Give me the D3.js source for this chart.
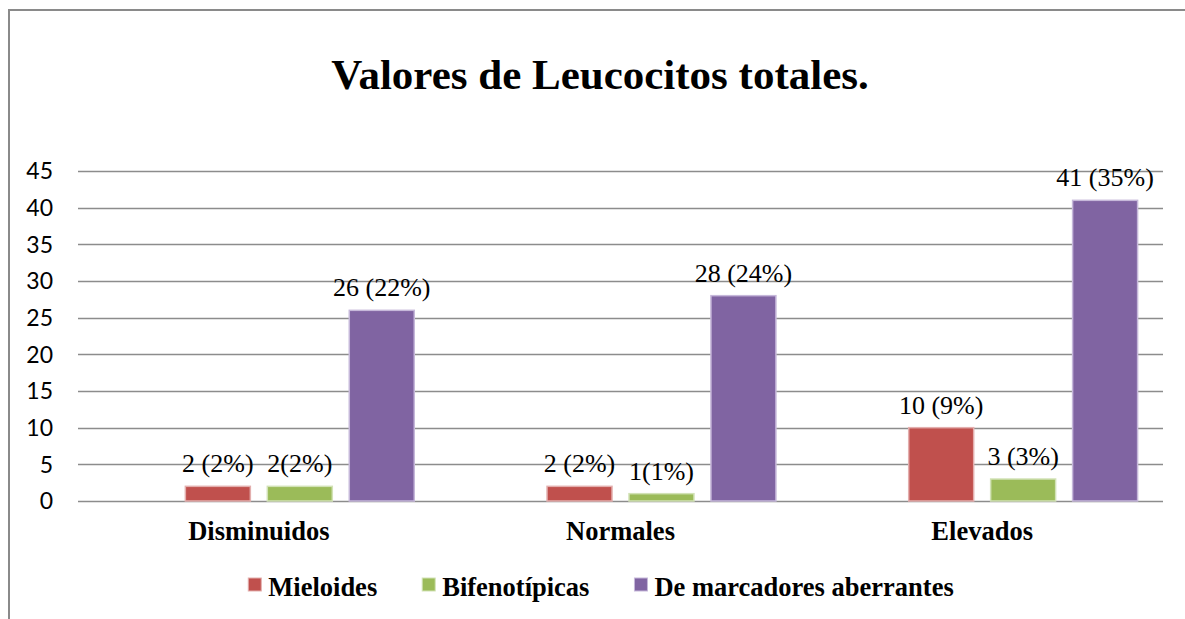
<!DOCTYPE html>
<html>
<head>
<meta charset="utf-8">
<script src="https://cdn.jsdelivr.net/npm/d3@7"></script>
<style>
    body { margin: 0; background: #fff; }
    svg { display: block; }
</style>
</head>
<body>
<svg id="chart" width="1185" height="619"></svg>
<script>
// chart values
const categories = ["Disminuidos", "Normales", "Elevados"];
const seriesNames = ["Mieloides", "Bifenotípicas", "De marcadores aberrantes"];
const mieloides = [2, 2, 10];
const bifenotipicas = [2, 1, 3];
const aberrantes = [26, 28, 41];
const mieloidesLabels = ["2 (2%)", "2 (2%)", "10 (9%)"];
const bifenotipicasLabels = ["2(2%)", "1(1%)", "3 (3%)"];
const aberrantesLabels = ["26 (22%)", "28 (24%)", "41 (35%)"];
const yTicks = [0, 5, 10, 15, 20, 25, 30, 35, 40, 45];
const seriesColors = ["#C0504D", "#9BBB59", "#8064A2"];
const seriesStrokes = ["#E3AFAE", "#D2E2B6", "#C6B8DA"];

const seriesValues = [mieloides, bifenotipicas, aberrantes];
const seriesLabels = [mieloidesLabels, bifenotipicasLabels, aberrantesLabels];

const serif = '"Liberation Serif", "Times New Roman", serif';

const svg = d3.select('#chart');

// outer frame (only top and left edges visible in the picture)
svg.append('path')
    .attr('d', 'M9,619 L9,10 L1185,10')
    .attr('fill', 'none')
    .attr('stroke', '#8a8a8a')
    .attr('stroke-width', 2);

// title
svg.append('text')
    .attr('x', 600)
    .attr('y', 89)
    .attr('text-anchor', 'middle')
    .style('font-family', serif)
    .style('font-weight', 'bold')
    .style('font-size', '43px')
    .text('Valores de Leucocitos totales.');

let y = d3.scaleLinear()
    .domain([0, 45])
    .range([501, 171]);

let x0 = d3.scaleBand()
    .domain(categories)
    .range([78, 1163]);

// the source chart keeps an empty first slot in each group, so 4 slots
let x1 = d3.scaleBand()
    .domain([0, 1, 2, 3])
    .range([0, x0.bandwidth()])
    .paddingInner(0.207)
    .paddingOuter(0.31);

// gridlines
svg.append('g')
    .selectAll('line')
    .data(yTicks)
    .enter()
    .append('line')
    .attr('x1', 78)
    .attr('x2', 1163)
    .attr('y1', d => Math.round(y(d)) + 0.5)
    .attr('y2', d => Math.round(y(d)) + 0.5)
    .attr('stroke', '#8c8c8c')
    .attr('stroke-width', 1.5);

// y tick labels
svg.append('g')
    .selectAll('text')
    .data(yTicks)
    .enter()
    .append('text')
    .attr('x', 53)
    .attr('y', d => y(d))
    .attr('dy', '0.36em')
    .attr('text-anchor', 'end')
    .style('font-family', 'Lato, "Open Sans", sans-serif')
    .style('font-size', '23px')
    .text(d => d);

// bars + labels
for (let s = 0; s < seriesValues.length; s++) {
    let rows = categories.map((c, i) => ({ cat: c, v: seriesValues[s][i], label: seriesLabels[s][i] }));

    let g = svg.append('g');

    g.selectAll('rect')
        .data(rows)
        .enter()
        .append('rect')
        .attr('x', d => x0(d.cat) + x1(s + 1))
        .attr('y', d => y(d.v))
        .attr('width', x1.bandwidth())
        .attr('height', d => y(0) - y(d.v))
        .attr('fill', seriesColors[s])
        .attr('stroke', seriesStrokes[s])
        .attr('stroke-width', 1.5);

    g.selectAll('text')
        .data(rows)
        .enter()
        .append('text')
        .attr('x', d => x0(d.cat) + x1(s + 1) + x1.bandwidth() / 2)
        .attr('y', d => y(d.v) - 14)
        .attr('text-anchor', 'middle')
        .style('font-family', serif)
        .style('font-size', '26px')
        .text(d => d.label);
}

// category labels
svg.append('g')
    .selectAll('text')
    .data(categories)
    .enter()
    .append('text')
    .attr('x', d => x0(d) + x0.bandwidth() / 2)
    .attr('y', 540)
    .attr('text-anchor', 'middle')
    .style('font-family', serif)
    .style('font-weight', 'bold')
    .style('font-size', '26.5px')
    .text(d => d);

// legend, laid out left to right then centred
let legend = svg.append('g');
let items = legend.selectAll('g')
    .data(seriesNames)
    .enter()
    .append('g');

items.append('rect')
    .attr('x', 0)
    .attr('y', -18)
    .attr('width', 13)
    .attr('height', 13)
    .attr('fill', (d, i) => seriesColors[i])
    .attr('stroke', (d, i) => seriesStrokes[i])
    .attr('stroke-width', 1);

items.append('text')
    .attr('x', 20)
    .attr('y', 0)
    .style('font-family', serif)
    .style('font-weight', 'bold')
    .style('font-size', '26.5px')
    .text(d => d);

const legendGap = 45;
let pos = 0;
items.each(function () {
    let w = 20 + d3.select(this).select('text').node().getComputedTextLength();
    d3.select(this).attr('transform', 'translate(' + pos + ',0)');
    pos += w + legendGap;
});
let total = pos - legendGap;
legend.attr('transform', 'translate(' + (601 - total / 2) + ',596)');
</script>
</body>
</html>
